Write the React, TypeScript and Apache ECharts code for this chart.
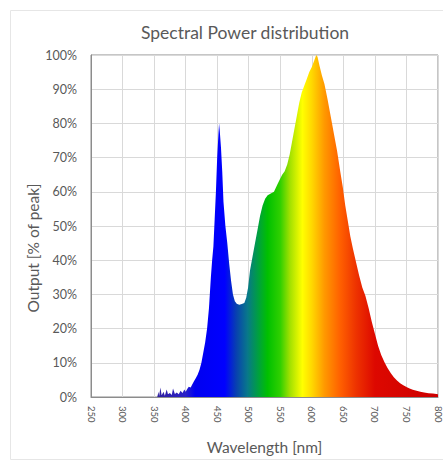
import React, { useEffect, useRef } from "react";
import * as echarts from "echarts";

const TITLE = "Spectral Power distribution";
const X_NAME = "Wavelength [nm]";
const Y_NAME = "Output [% of peak]";

// wavelength (nm)
const wavelengths = [
  250, 355, 357, 358, 360, 362, 365, 367, 370, 372, 375, 378, 380, 383, 386, 389, 392, 395, 398, 400,
  403, 405, 408, 410, 413, 416, 419, 422, 425, 428, 431, 434, 437, 440, 442, 444, 446, 448, 450, 452,
  453, 454, 456, 458, 460, 463, 466, 469, 472, 475, 478, 481, 485, 489, 493, 496, 499, 502, 506, 510,
  514, 518, 522, 526, 530, 535, 540, 545, 549, 553, 557, 561, 565, 568, 571, 574, 577, 580, 584, 588,
  592, 596, 600, 604, 607, 609, 612, 616, 620, 625, 630, 635, 640, 645, 649, 653, 657, 661, 665, 670,
  675, 680, 685, 690, 695, 700, 705, 710, 715, 720, 725, 730, 735, 740, 745, 750, 755, 760, 766, 772,
  778, 785, 792, 800,
];
// output (% of peak)
const outputs = [
  0, 0, 1.5, 0.3, 2.8, 0.5, 1.5, 0.4, 2.2, 0.8, 1.2, 0.6, 2.5, 0.9, 1.3, 0.8, 1.8, 1.2, 2.2, 1.5,
  2.5, 3, 2.8, 3.5, 4.5, 5.5, 6.5, 8, 10, 13, 16, 20, 26, 35, 40, 44, 52, 60, 70, 77,
  80, 78, 73, 66, 57, 50, 45, 39, 34, 30, 28, 27.3, 27, 27.2, 27.5, 29, 32, 37, 41, 45,
  49, 53, 56, 58, 59, 59.5, 60, 62, 63.5, 65, 66, 68, 71, 74, 77, 80, 83, 86, 89, 91,
  93, 95, 96.5, 98.5, 100, 99.5, 97, 94, 91.5, 87, 82, 77, 72, 66, 61.5, 56, 51.5, 47, 43.5, 39.5,
  35.5, 32, 29.5, 26, 22, 18.5, 15, 12.3, 10.2, 8.5, 7, 5.8, 4.8, 4, 3.4, 2.9, 2.5, 2.1, 1.8, 1.5,
  1.3, 1.1, 1, 0.8,
];

// spectrum colour stops (wavelength nm, colour)
const colorWavelengths = [355, 400, 415, 462, 480, 498, 515, 530, 550, 565, 585, 600, 620, 645, 670, 700, 800];
const colorValues = [
  "#3020a0", "#2a20c8", "#0000f0", "#0000ff", "#0840b0", "#08788a", "#00a040", "#00c000", "#30d000",
  "#a0e000", "#ffff00", "#ffd800", "#ff9900", "#ff6000", "#ee3300", "#dd0800", "#cc0000",
];

const X_MIN = 250;
const X_MAX = 800;

export default function App() {
  const ref = useRef<HTMLDivElement>(null);
  useEffect(() => {
    if (!ref.current) return;
    const chart = echarts.init(ref.current, null, { renderer: "svg" });
    const data = wavelengths.map((w, i) => [w, outputs[i]]);
    const span = wavelengths[wavelengths.length - 1] - wavelengths[0];
    const stops = colorWavelengths.map((w, i) => ({
      offset: (w - wavelengths[0]) / span,
      color: colorValues[i],
    }));
    const font = "Lato, 'Open Sans', sans-serif";
    const textColor = "#595959";
    chart.setOption({
      animation: false,
      backgroundColor: "#ffffff",
      textStyle: { fontFamily: font },
      title: {
        text: TITLE,
        left: 240,
        top: 18,
        textAlign: "center",
        textStyle: { fontFamily: font, fontSize: 17.5, fontWeight: "normal", color: textColor },
      },
      graphic: [
        {
          type: "rect",
          shape: { x: 10.5, y: 10.5, width: 460, height: 449 },
          style: { fill: "none", stroke: "#e6e6e6", lineWidth: 1 },
          z: -1,
        },
        {
          type: "text",
          x: 33,
          y: 248,
          rotation: Math.PI / 2,
          style: {
            text: Y_NAME,
            fontFamily: font,
            fontSize: 15.5,
            fill: textColor,
            textAlign: "center",
            textVerticalAlign: "middle",
          },
        },
      ],
      grid: {
        left: 91,
        top: 55,
        right: 1,
        bottom: 65,
        show: true,
        borderColor: "#8c8c8c",
        borderWidth: 1,
      },
      xAxis: {
        type: "value",
        min: X_MIN,
        max: X_MAX,
        interval: 50,
        name: X_NAME,
        nameLocation: "middle",
        nameGap: 42,
        nameTextStyle: { fontFamily: font, fontSize: 15.5, color: textColor },
        axisLine: { show: true, lineStyle: { color: "#8c8c8c" } },
        axisTick: { show: false },
        axisLabel: {
          rotate: -90,
          margin: 9,
          fontSize: 9.5,
          color: textColor,
          fontFamily: font,
          showMaxLabel: true,
          showMinLabel: true,
        },
        splitLine: { show: true, lineStyle: { color: "#d9d9d9", width: 1 } },
      },
      yAxis: {
        type: "value",
        min: 0,
        max: 100,
        interval: 10,
        axisLine: { show: true, lineStyle: { color: "#8c8c8c" } },
        axisTick: { show: false },
        axisLabel: {
          formatter: "{value}%",
          margin: 14,
          fontSize: 12.5,
          color: textColor,
          fontFamily: font,
        },
        splitLine: { show: true, lineStyle: { color: "#d9d9d9", width: 1 } },
      },
      series: [
        {
          type: "line",
          data,
          symbol: "none",
          smooth: false,
          lineStyle: { width: 0 },
          areaStyle: {
            opacity: 1,
            color: new echarts.graphic.LinearGradient(0, 0, 1, 0, stops),
          },
        },
      ],
    });
    return () => chart.dispose();
  }, []);
  return (
    <div
      ref={ref}
      style={{ position: "fixed", left: 0, top: 0, width: 443, height: 462 }}
    />
  );
}
